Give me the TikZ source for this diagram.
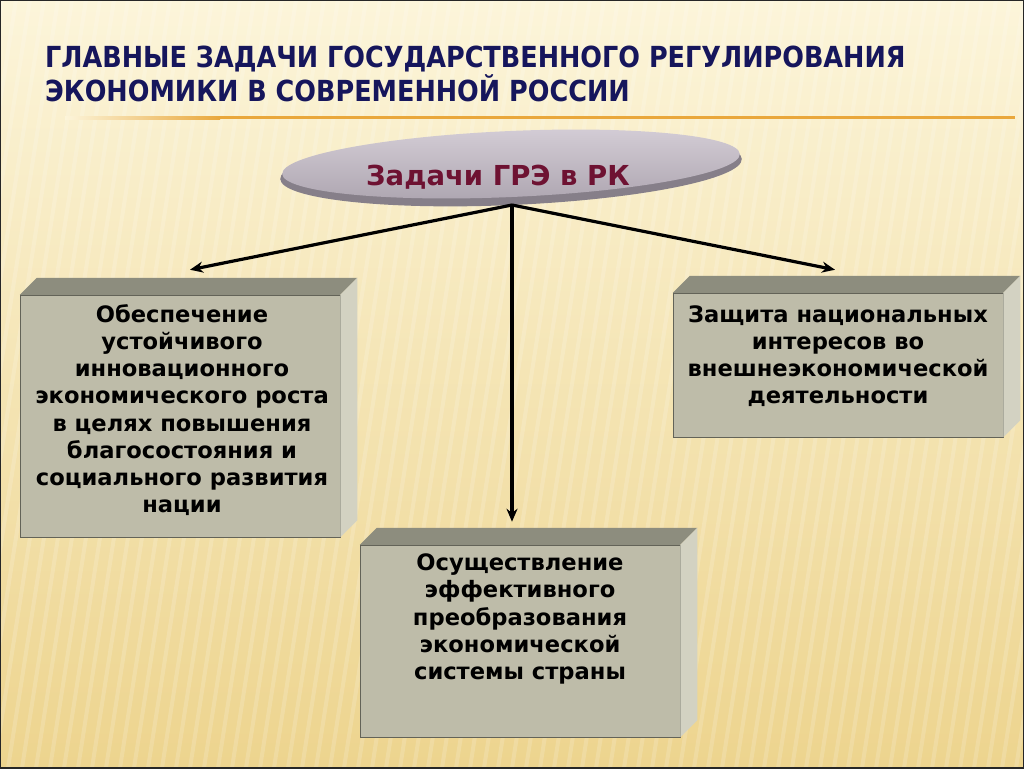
\documentclass[tikz,border=0pt]{standalone}
\usepackage{fontspec}
\setmainfont{DejaVu Sans}
\newfontfamily\headfont[FakeStretch=0.88]{DejaVu Sans}
\usetikzlibrary{arrows.meta,calc}

\definecolor{bgtop}{HTML}{FCF5DA}
\definecolor{bgmid}{HTML}{F7E8B2}
\definecolor{bgbot}{HTML}{EDD48E}
\definecolor{rulecol}{HTML}{E9A73C}
\definecolor{headblue}{HTML}{16165C}
\definecolor{ovaltop}{HTML}{D2CBD4}
\definecolor{ovalbot}{HTML}{ADA5B0}
\definecolor{ovalrim}{HTML}{867F89}
\definecolor{taskred}{HTML}{6E1232}
\definecolor{boxfront}{HTML}{BEBCA9}
\definecolor{boxtop}{HTML}{8D8D7E}
\definecolor{boxside}{HTML}{D3D2C2}

\tikzset{
  face/.style={fill=boxfront, inner sep=0pt, draw=boxtop!70!black, line width=0.5pt},
  boxtext/.style={font=\bfseries\fontsize{22.6}{27.2}\selectfont, align=center, inner sep=0pt},
  headline/.style={anchor=base west, inner sep=0pt, text=headblue, font=\headfont\bfseries\fontsize{29}{34}\selectfont},
  link/.style={line width=3.2pt, -{Stealth[length=13pt,width=11pt]}},
}
% top and side of a box
\newcommand{\boxdepth}[1]{%
  \fill[boxtop] (#1.north west) -- ++(17,-17) -- ([shift={(17,-17)}]#1.north east) -- (#1.north east) -- cycle;
  \fill[boxside] (#1.north east) -- ++(17,-17) -- ([shift={(17,-17)}]#1.south east) -- (#1.south east) -- cycle;
}

\begin{document}
\begin{tikzpicture}[x=1pt,y=-1pt]
  \useasboundingbox (0,0) rectangle (1024,768);
  % background
  \shade[top color=bgtop, middle color=bgmid, bottom color=bgbot] (0,0) rectangle (1024,768);
  \begin{scope}
    \clip (0,0) rectangle (1024,768);
    \foreach \sx in {-160,-146,...,1030}
      \draw[white, opacity=0.16, line width=4pt] (\sx,768) -- ++(120,-768);
  \end{scope}
  \draw[black!85, line width=2pt] (0,0) rectangle (1024,768);

  % title
  \node[headline] (title1) at (45,67) {ГЛАВНЫЕ ЗАДАЧИ ГОСУДАРСТВЕННОГО РЕГУЛИРОВАНИЯ};
  \node[headline] (title2) at (45,101) {ЭКОНОМИКИ В СОВРЕМЕННОЙ РОССИИ};
  \shade[left color=bgtop, right color=rulecol] (65,116) rectangle (220,119);
  \fill[rulecol] (220,116) rectangle (1015,119);

  % oval
  \fill[ovalrim] (511,169) ellipse [x radius=231, y radius=36, rotate=2.5];
  \shade[top color=ovaltop, bottom color=ovalbot, rotate around={2.5:(511,164)}]
    (511,164) ellipse [x radius=229, y radius=33];
  \node[font=\bfseries\fontsize{27.5}{32}\selectfont, text=taskred] (task) at (498,177) {Задачи ГРЭ в РК};
  \coordinate (hub) at (512,205);

  % boxes
  \node[face, minimum width=320pt, minimum height=242pt] (growth) at (180,416) {};
  \node[face, minimum width=330pt, minimum height=144pt] (protect) at (838,365) {};
  \node[face, minimum width=320pt, minimum height=192pt] (reform) at (520,641) {};
  \boxdepth{growth}
  \boxdepth{protect}
  \boxdepth{reform}

  \node[boxtext] (growthtext) at (182,410) {Обеспечение\\устойчивого\\инновационного\\экономического роста\\в целях повышения\\благосостояния и\\социального развития\\нации};
  \node[boxtext] (protecttext) at (838,356) {Защита национальных\\интересов во\\внешнеэкономической\\деятельности};
  \node[boxtext] (reformtext) at (520,619) {Осуществление\\эффективного\\преобразования\\экономической\\системы страны};

  % arrows
  \draw[link] (hub) -- ([shift={(10,-25)}]growth.north);
  \draw[link] (hub) -- ([shift={(-3,-23)}]protect.north);
  \draw[link] (hub) -- ($(hub |- reform.north)+(0,-23)$);
\end{tikzpicture}
\end{document}
